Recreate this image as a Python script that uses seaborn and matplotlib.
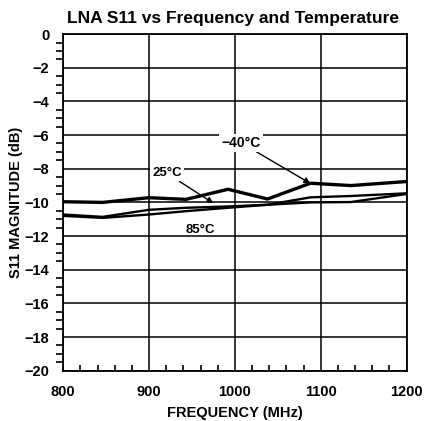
import matplotlib
matplotlib.use("Agg")
import matplotlib.pyplot as plt
import seaborn as sns
import pandas as pd
from matplotlib.ticker import MultipleLocator

# Measured S11 magnitude (dB) vs frequency (MHz) at three temperatures
freq_mhz = [800, 846, 900, 943, 992, 1038, 1088, 1135, 1200]
s11_m40c = [-9.96, -10.0, -9.72, -9.82, -9.22, -9.80, -8.86, -9.00, -8.76]
s11_25c = [-10.72, -10.86, -10.44, -10.32, -10.24, -10.14, -9.70, -9.62, -9.46]
s11_85c = [-10.80, -10.92, -10.72, -10.52, -10.32, -10.14, -10.00, -9.98, -9.50]

x_ticks = [800, 900, 1000, 1100, 1200]
y_ticks = [0, -2, -4, -6, -8, -10, -12, -14, -16, -18, -20]

sns.set_style("white")
plt.rcParams["font.family"] = ["Liberation Sans", "DejaVu Sans"]
plt.rcParams["font.weight"] = "bold"
for key in ("text.color", "axes.labelcolor", "xtick.color", "ytick.color"):
    plt.rcParams[key] = "black"

df = pd.concat([
    pd.DataFrame({"freq": freq_mhz, "s11": s11_m40c, "temp": "-40"}),
    pd.DataFrame({"freq": freq_mhz, "s11": s11_25c, "temp": "25"}),
    pd.DataFrame({"freq": freq_mhz, "s11": s11_85c, "temp": "85"}),
])

fig = plt.figure(figsize=(4.24, 4.21), dpi=100)
ax = fig.add_axes([0.149, 0.1195, 0.81, 0.7995])

widths = {"-40": 2.4, "25": 1.7, "85": 1.7}
for t, sub in df.groupby("temp", sort=False):
    sns.lineplot(data=sub, x="freq", y="s11", ax=ax, color="black",
                 linewidth=widths[t], legend=False, zorder=3)

ax.set_xlim(800, 1200)
ax.set_ylim(-20, 0)
ax.set_xticks(x_ticks)
ax.set_yticks(y_ticks)
ax.set_xticklabels([str(v) for v in x_ticks], fontsize=10.5, fontweight="bold")
ax.set_yticklabels([str(v).replace("-", "\u2212") for v in y_ticks],
                   fontsize=10.5, fontweight="bold", rotation=0)
ax.xaxis.set_minor_locator(MultipleLocator(20))
ax.yaxis.set_minor_locator(MultipleLocator(0.5))
ax.tick_params(axis="x", which="minor", direction="in", length=4, width=1.2, bottom=True)
ax.tick_params(axis="x", which="major", direction="in", length=0, pad=10)
ax.tick_params(axis="y", which="minor", direction="out", length=5, width=1.2, left=True)
ax.tick_params(axis="y", which="major", direction="out", length=8, width=1.2, pad=2)

ax.grid(True, which="major", color="black", linewidth=1.1)
for s in ax.spines.values():
    s.set_color("black")
    s.set_linewidth(1.3)

ax.set_xlabel("FREQUENCY (MHz)", fontsize=10.5, fontweight="bold", labelpad=5)
ax.set_ylabel("S11 MAGNITUDE (dB)", fontsize=10.5, fontweight="bold", labelpad=1)
fig.suptitle("LNA S11 vs Frequency and Temperature", x=0.55, y=0.975,
             fontsize=12.5, fontweight="bold")

arrow = dict(arrowstyle="-|>", color="black", lw=1.0, mutation_scale=9,
             shrinkA=0, shrinkB=0)
label_box = dict(boxstyle="square,pad=0.15", facecolor="white", edgecolor="none")
ax.annotate("\u221240\u00b0C", xy=(1088, -8.88), xytext=(1007, -6.45),
            fontsize=10, fontweight="bold", ha="center", va="center",
            bbox=label_box, arrowprops=arrow, zorder=4)
ax.annotate("25\u00b0C", xy=(975, -10.05), xytext=(921, -8.28),
            fontsize=9.5, fontweight="bold", ha="center", va="center",
            bbox=label_box, arrowprops=arrow, zorder=4)
ax.text(960, -11.66, "85\u00b0C", fontsize=9.5, fontweight="bold",
        ha="center", va="center", zorder=4)

fig.savefig("out.png", dpi=100, facecolor="white")
